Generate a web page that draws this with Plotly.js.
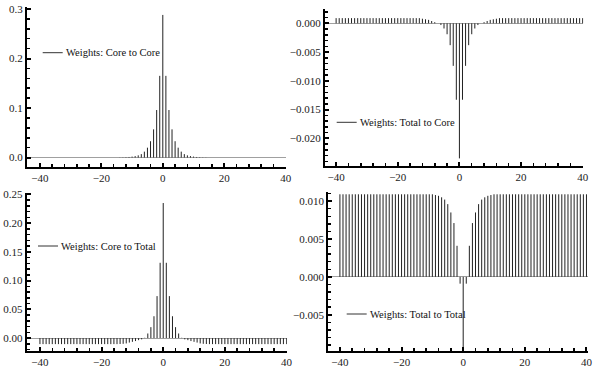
<!DOCTYPE html>
<html>
<head>
<meta charset="utf-8">
<script src="https://cdn.plot.ly/plotly-3.0.1.min.js"></script>
<style>html,body{margin:0;padding:0;background:#fff;}#chart{width:600px;height:374px;}</style>
</head>
<body>
<div id="chart"></div>
<script>
// lags -40 .. 40
const lags = [-40,-39,-38,-37,-36,-35,-34,-33,-32,-31,-30,-29,-28,-27,-26,-25,-24,-23,-22,-21,
  -20,-19,-18,-17,-16,-15,-14,-13,-12,-11,-10,-9,-8,-7,-6,-5,-4,-3,-2,-1,
  0,1,2,3,4,5,6,7,8,9,10,11,12,13,14,15,16,17,18,19,20,
  21,22,23,24,25,26,27,28,29,30,31,32,33,34,35,36,37,38,39,40];

const coreToCore = [0,0,0,0,0,0,0,0,0,0,0,0,0,0,0,0,0,0,0,0,
  0,0,0,0,0,0,0.0003,0.0005,0.0008,0.0012,0.002,0.003,0.0045,0.007,0.012,0.020,0.033,0.057,0.096,0.165,
  0.288,
  0.165,0.096,0.057,0.033,0.020,0.012,0.007,0.0045,0.003,0.002,0.0012,0.0008,0.0005,0.0003,0,0,0,0,0,0,
  0,0,0,0,0,0,0,0,0,0,0,0,0,0,0,0,0,0,0,0];

const totalToCore = [0.0009,0.0009,0.0009,0.0009,0.0009,0.0009,0.0009,0.0009,0.0009,0.0009,0.0009,0.0009,0.0009,0.0009,0.0009,0.0009,0.0009,0.0009,0.0009,0.0009,
  0.0009,0.0009,0.0009,0.0009,0.0009,0.0009,0.0009,0.0009,0.0008,0.0007,0.0006,0.0004,0.0002,0.0000,-0.0003,-0.0009,-0.0019,-0.0038,-0.0074,-0.0133,
  -0.0235,
  -0.0133,-0.0074,-0.0038,-0.0019,-0.0009,-0.0003,0.0000,0.0002,0.0004,0.0006,0.0007,0.0008,0.0009,0.0009,0.0009,0.0009,0.0009,0.0009,0.0009,0.0009,
  0.0009,0.0009,0.0009,0.0009,0.0009,0.0009,0.0009,0.0009,0.0009,0.0009,0.0009,0.0009,0.0009,0.0009,0.0009,0.0009,0.0009,0.0009,0.0009,0.0009];

const coreToTotal = [-0.0105,-0.0105,-0.0105,-0.0105,-0.0105,-0.0105,-0.0105,-0.0105,-0.0105,-0.0105,-0.0105,-0.0105,-0.0105,-0.0105,-0.0105,-0.0105,-0.0105,-0.0105,-0.0105,-0.0105,
  -0.0105,-0.0105,-0.0105,-0.0105,-0.0105,-0.0105,-0.0103,-0.0100,-0.0093,-0.0078,-0.0065,-0.0052,-0.0036,-0.0022,0.0005,0.008,0.019,0.038,0.073,0.131,
  0.235,
  0.131,0.073,0.038,0.019,0.008,0.0005,-0.0022,-0.0036,-0.0052,-0.0065,-0.0078,-0.0093,-0.0100,-0.0103,-0.0105,-0.0105,-0.0105,-0.0105,-0.0105,-0.0105,
  -0.0105,-0.0105,-0.0105,-0.0105,-0.0105,-0.0105,-0.0105,-0.0105,-0.0105,-0.0105,-0.0105,-0.0105,-0.0105,-0.0105,-0.0105,-0.0105,-0.0105,-0.0105,-0.0105,-0.0105];

const totalToTotal = [0.0109,0.0109,0.0109,0.0109,0.0109,0.0109,0.0109,0.0109,0.0109,0.0109,0.0109,0.0109,0.0109,0.0109,0.0109,0.0109,0.0109,0.0109,0.0109,0.0109,
  0.0109,0.0109,0.0109,0.0109,0.0109,0.0109,0.0109,0.0109,0.0109,0.0109,0.0109,0.0108,0.0107,0.0105,0.0102,0.0096,0.0085,0.0071,0.0041,-0.0009,
  -0.0097,
  -0.0009,0.0041,0.0071,0.0085,0.0096,0.0102,0.0105,0.0107,0.0108,0.0109,0.0109,0.0109,0.0109,0.0109,0.0109,0.0109,0.0109,0.0109,0.0109,0.0109,
  0.0109,0.0109,0.0109,0.0109,0.0109,0.0109,0.0109,0.0109,0.0109,0.0109,0.0109,0.0109,0.0109,0.0109,0.0109,0.0109,0.0109,0.0109,0.0109,0.0109];

const xTicks = [-40,-20,0,20,40];
const legendNames = ["Weights: Core to Core","Weights: Total to Core","Weights: Core to Total","Weights: Total to Total"];

function stems(xs, ys, xa, ya) {
  const sx = [], sy = [];
  for (let i = 0; i < xs.length; i++) {
    sx.push(xs[i], xs[i], null);
    sy.push(0, ys[i], null);
  }
  return {x: sx, y: sy, xaxis: xa, yaxis: ya, type: 'scatter', mode: 'lines',
          line: {color: '#222', width: 1}, hoverinfo: 'skip', showlegend: false};
}

const traces = [
  stems(lags, coreToCore, 'x', 'y'),
  stems(lags, totalToCore, 'x2', 'y2'),
  stems(lags, coreToTotal, 'x3', 'y3'),
  stems(lags, totalToTotal, 'x4', 'y4')
];

const SERIF = 'Liberation Serif';
const font = {family: SERIF, size: 11, color: '#222'};

function xax(domain, range, anchor) {
  return {domain: domain, range: range, anchor: anchor, tickvals: xTicks,
    showline: true, linecolor: '#000', linewidth: 2, mirror: false,
    ticks: 'inside', ticklen: 4, tickwidth: 2, tickcolor: '#000',
    minor: {ticks: 'inside', ticklen: 3, tickwidth: 1.5, tickcolor: '#000', dtick: 4, tick0: 0},
    showgrid: false, zeroline: false, tickfont: font, fixedrange: true};
}
function yax(domain, range, anchor, dtick, fmt, minorDtick) {
  return {domain: domain, range: range, anchor: anchor, dtick: dtick, tick0: 0, tickformat: fmt,
    showline: true, linecolor: '#000', linewidth: 2, mirror: false,
    ticks: 'inside', ticklen: 4, tickwidth: 2, tickcolor: '#000',
    minor: {ticks: 'inside', ticklen: 3, tickwidth: 1.5, tickcolor: '#000', dtick: minorDtick, tick0: 0},
    showgrid: false, zeroline: true, zerolinecolor: '#a0a0a0', zerolinewidth: 1,
    tickfont: font, fixedrange: true};
}

const layout = {
  width: 600, height: 374,
  margin: {l: 0, r: 0, t: 0, b: 0},
  paper_bgcolor: '#fff', plot_bgcolor: '#fff',
  font: {family: SERIF},
  showlegend: false,
  xaxis:  xax([0.045, 0.4767], [-44.2, 40.1], 'y'),
  yaxis:  yax([0.5535, 0.9813], [-0.019, 0.304], 'x', 0.1, '.1f', 0.02),
  xaxis2: xax([0.5417, 0.9722], [-43.6, 40.2], 'y2'),
  yaxis2: yax([0.557, 0.975], [-0.02477, 0.00243], 'x2', 0.005, '.3f', 0.001),
  xaxis3: xax([0.0445, 0.478], [-44.3, 40.1], 'y3'),
  yaxis3: yax([0.0607, 0.4848], [-0.023, 0.253], 'x3', 0.05, '.2f', 0.01),
  xaxis4: xax([0.547, 0.98], [-43.8, 40.5], 'y4'),
  yaxis4: yax([0.0607, 0.4866], [-0.00983, 0.0112], 'x4', 0.005, '.3f', 0.001),
  shapes: [], annotations: []
};

// legend-style labels (line sample + text), positioned in paper pixels
const legendPos = [[42.7, 52.7], [336.7, 122.3], [38, 246], [346.7, 314]];
legendPos.forEach((p, i) => {
  const x0 = p[0] / 600, x1 = (p[0] + 20) / 600, y = 1 - p[1] / 374;
  layout.shapes.push({type: 'line', xref: 'paper', yref: 'paper', x0: x0, x1: x1, y0: y, y1: y,
    line: {color: '#333', width: 1}});
  layout.annotations.push({xref: 'paper', yref: 'paper', x: (p[0] + 21) / 600, y: y,
    xanchor: 'left', yanchor: 'middle', showarrow: false, text: legendNames[i],
    font: {family: SERIF, size: 10.5, color: '#111'}});
});

Plotly.newPlot('chart', traces, layout, {staticPlot: true, displayModeBar: false});
</script>
</body>
</html>
